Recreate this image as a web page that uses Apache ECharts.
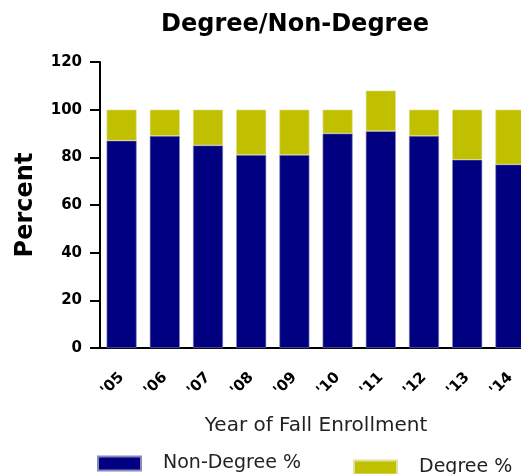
<!DOCTYPE html>
<html>
<head>
<meta charset="utf-8">
<script src="https://cdn.jsdelivr.net/npm/echarts@6/dist/echarts.min.js"></script>
<style>
  html, body { margin: 0; padding: 0; background: #fff; }
  #chart { width: 521px; height: 474px; }
</style>
</head>
<body>
<div id="chart"></div>
<script>
// values
const years = ["'05", "'06", "'07", "'08", "'09", "'10", "'11", "'12", "'13", "'14"]
const nonDegree = [87, 89, 85, 81, 81, 90, 91, 89, 79, 77]
const degree = [13, 11, 15, 19, 19, 10, 17, 11, 21, 23]

const navy = '#000080'
const olive = '#c0c000'
const baseFont = '"DejaVu Sans", sans-serif'

const chart = echarts.init(document.getElementById('chart'))

const legendText = { fontFamily: baseFont, fontSize: 19, color: '#222', padding: [0, 0, 0, 17] }

chart.setOption({
  backgroundColor: '#fff',
  animation: false,
  title: {
    text: 'Degree/Non-Degree',
    left: 290,
    textAlign: 'center',
    top: 8,
    textStyle: { fontFamily: baseFont, fontWeight: 'bold', fontSize: 24, color: '#000' }
  },
  legend: [
    {
      data: ['Non-Degree %'],
      left: 97,
      top: 454,
      padding: 0,
      itemWidth: 43,
      itemHeight: 14,
      icon: 'rect',
      textStyle: legendText
    },
    {
      data: ['Degree %'],
      left: 353,
      top: 458,
      padding: 0,
      itemWidth: 43,
      itemHeight: 14,
      icon: 'rect',
      textStyle: legendText
    }
  ],
  grid: { left: 100, width: 432, top: 62, height: 286, outerBoundsMode: 'none', containLabel: false },
  xAxis: {
    type: 'category',
    data: years,
    name: 'Year of Fall Enrollment',
    nameLocation: 'middle',
    nameGap: 68,
    nameTextStyle: { fontFamily: baseFont, fontSize: 20, color: '#222' },
    axisLine: { lineStyle: { color: '#000', width: 2 } },
    axisTick: { alignWithLabel: true, length: 10, lineStyle: { color: '#000', width: 2 } },
    axisLabel: {
      rotate: 45,
      margin: 27,
      fontFamily: baseFont,
      fontWeight: 'bold',
      fontSize: 15,
      color: '#000'
    }
  },
  yAxis: {
    type: 'value',
    min: 0,
    max: 120,
    interval: 20,
    name: 'Percent',
    nameLocation: 'middle',
    nameGap: 62,
    nameTextStyle: { fontFamily: baseFont, fontWeight: 'bold', fontSize: 24, color: '#000' },
    axisLine: { show: true, lineStyle: { color: '#000', width: 2 } },
    axisTick: { show: true, length: 10, lineStyle: { color: '#000', width: 2 } },
    axisLabel: { margin: 18, fontFamily: baseFont, fontWeight: 'bold', fontSize: 15, color: '#000' },
    splitLine: { show: false }
  },
  series: [
    {
      name: 'Non-Degree %',
      type: 'bar',
      stack: 'total',
      data: nonDegree,
      barWidth: 30,
      itemStyle: { color: navy, borderColor: '#8888bb', borderWidth: 0.6 }
    },
    {
      name: 'Degree %',
      type: 'bar',
      stack: 'total',
      data: degree,
      barWidth: 30,
      itemStyle: { color: olive, borderColor: '#e0e0a0', borderWidth: 0.6 }
    }
  ]
})
</script>
</body>
</html>
